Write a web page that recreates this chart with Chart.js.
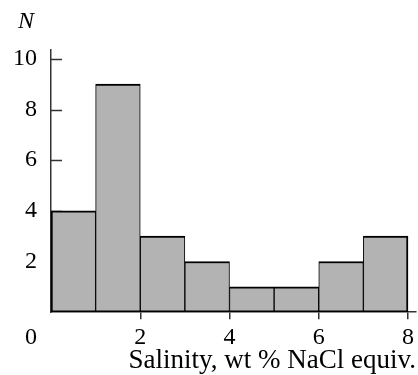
<!DOCTYPE html>
<html>
<head>
<meta charset="utf-8">
<script src="https://cdn.jsdelivr.net/npm/chart.js@4/dist/chart.umd.min.js"></script>
<style>
	html, body { margin: 0; padding: 0; background: #fff; }
	#wrap { width: 418px; height: 375px; }
</style>
</head>
<body>
<div id="wrap"><canvas id="salinity-chart"></canvas></div>
<script>
// histogram bins (wt % NaCl equiv.) and counts
const binCenters = [0.5, 1.5, 2.5, 3.5, 4.5, 5.5, 6.5, 7.5];
const counts = [4, 9, 3, 2, 1, 1, 2, 3];
const xTicks = [2, 4, 6, 8];
const yTicks = [2, 4, 6, 8, 10];
const xTitle = 'Salinity, wt % NaCl equiv.';
const yTitle = 'N';

const serif = "'Liberation Serif', 'Times New Roman', serif";
const axisColor = '#333';

// y ticks point inward, bars cover them
const innerTicks = {
	id: 'innerTicks',
	beforeDatasetsDraw(chart) {
		const ctx = chart.ctx;
		const y = chart.scales.y;
		ctx.save();
		ctx.strokeStyle = axisColor;
		ctx.lineWidth = 1.5;
		yTicks.forEach(t => {
			const py = Math.round(y.getPixelForValue(t)) + 0.5;
			ctx.beginPath();
			ctx.moveTo(y.right, py);
			ctx.lineTo(y.right + 11, py);
			ctx.stroke();
		});
		ctx.restore();
	},
	afterDraw(chart) {
		const ctx = chart.ctx;
		const x = chart.scales.x;
		ctx.save();
		ctx.fillStyle = '#000';
		ctx.textAlign = 'center';
		ctx.textBaseline = 'middle';
		ctx.font = '24px ' + serif;
		ctx.fillText('0', x.getPixelForValue(0) - 20, x.top + 26);
		ctx.font = 'italic 24px ' + serif;
		ctx.fillText(yTitle, 26, 22);
		ctx.restore();
	}
};

const data = {
	datasets: [{
		data: binCenters.map((c, i) => ({ x: c, y: counts[i] })),
		backgroundColor: '#b3b3b3',
		borderColor: '#000',
		borderSkipped: false,
		borderWidth: c => ({
			top: 2,
			bottom: 2,
			left: c.dataIndex === 0 ? 2 : 1,
			right: c.dataIndex === counts.length - 1 ? 2 : 1
		}),
		barPercentage: 1,
		categoryPercentage: 1
	}]
};

new Chart(document.getElementById('salinity-chart'), {
	type: 'bar',
	data,
	plugins: [innerTicks],
	options: {
		responsive: true,
		maintainAspectRatio: false,
		animation: false,
		layout: { padding: { left: -1, right: 0, top: 50, bottom: 0 } },
		plugins: { legend: { display: false }, tooltip: { enabled: false } },
		scales: {
			x: {
				type: 'linear',
				offset: false,
				min: 0,
				max: 8.18,
				afterBuildTicks: s => { s.ticks = xTicks.map(v => ({ value: v })); },
				ticks: { color: '#000', font: { family: serif, size: 24 }, padding: 4, maxRotation: 0 },
				grid: { offset: false, drawOnChartArea: false, drawTicks: true, tickLength: 7, color: axisColor, lineWidth: 1.5 },
				border: { color: axisColor, width: 1.5 },
				title: {
					display: true,
					text: xTitle,
					align: 'end',
					color: '#000',
					font: { family: serif, size: 27, lineHeight: 1 },
					padding: { top: -9, bottom: 1 }
				}
			},
			y: {
				min: 0,
				max: 10.35,
				afterBuildTicks: s => { s.ticks = yTicks.map(v => ({ value: v })); },
				ticks: { color: '#000', font: { family: serif, size: 24 }, padding: 14 },
				grid: { drawOnChartArea: false, drawTicks: false },
				border: { color: axisColor, width: 1.5 }
			}
		}
	}
});
</script>
</body>
</html>
